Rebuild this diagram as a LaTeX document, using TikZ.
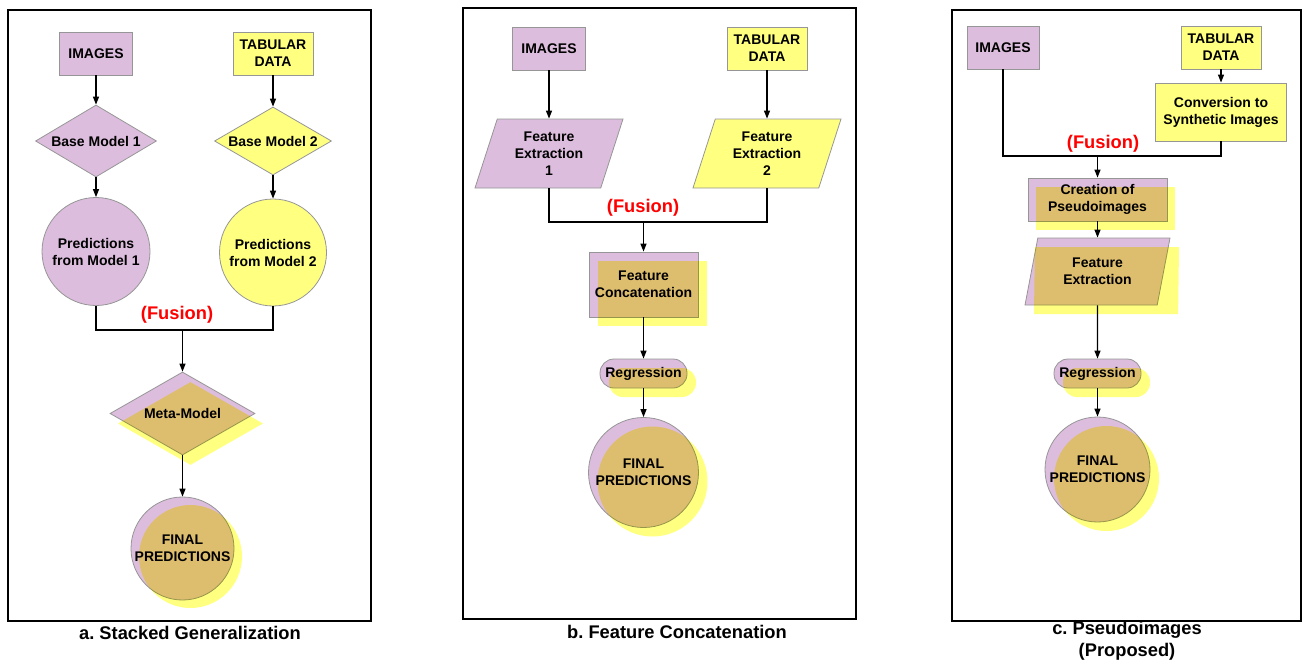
\documentclass[tikz,border=0pt]{standalone}
\usepackage{fontspec}
\setmainfont{Liberation Sans}
\usetikzlibrary{shapes.geometric,arrows.meta}
\frenchspacing
\definecolor{lilac}{RGB}{221,189,221}
\definecolor{lemon}{RGB}{255,255,128}
\definecolor{edgegray}{RGB}{150,150,150}
\tikzset{
  every node/.style={font=\fontsize{14}{17}\selectfont\bfseries, align=center},
  box/.style={rectangle, draw=edgegray, line width=0.8pt, inner sep=2pt},
  dmd/.style={diamond, draw=edgegray, line width=0.8pt, inner sep=0pt},
  para/.style={trapezium, trapezium stretches body, draw=edgegray, line width=0.8pt, inner sep=1pt},
  pill/.style={rectangle, rounded corners=14pt, draw=edgegray, line width=0.8pt, minimum width=87pt, minimum height=29pt},
  disc/.style={circle, draw=edgegray, line width=0.8pt, inner sep=0pt},
  shade/.style={fill=lemon, draw=none},
  link/.style={line width=1.2pt},
  flow/.style={link, -{Triangle[length=8pt,width=6pt]}},
  fusion/.style={text=red, font=\fontsize{18.3}{21}\selectfont\bfseries},
  caption/.style={font=\fontsize{18.3}{22}\selectfont\bfseries},
  panel/.style={line width=2.5pt},
}
\begin{document}
\begin{tikzpicture}[x=1pt, y=-1pt]
  \useasboundingbox (0,0) rectangle (1307,661);
  % a. stacked generalization
  \draw[panel] (8,10) rectangle (371,621);
  \node[box, fill=lilac, minimum width=73pt, minimum height=43pt] (img1) at (96,53.5) {IMAGES};
  \node[box, fill=lemon, minimum width=80pt, minimum height=43pt] (tab1) at (273,53.5) {TABULAR\\DATA};
  \node[dmd, fill=lilac, aspect=1.68, minimum width=121pt, minimum height=72pt] (bm1) at (96,141) {Base Model 1};
  \node[dmd, fill=lemon, aspect=1.72, minimum width=117pt, minimum height=68pt] (bm2) at (273,141) {Base Model 2};
  \node[disc, fill=lilac, minimum size=108pt] (pr1) at (96,251.5) {Predictions\\from Model 1};
  \node[disc, fill=lemon, minimum size=107pt] (pr2) at (273,252.5) {Predictions\\from Model 2};
  \node[fusion] (fusa) at (177,315) {(Fusion)};
  \coordinate (fa) at (182.5,330);
  \node[dmd, fill=lilac, aspect=1.75, minimum width=145pt, minimum height=83pt] (meta) at (182.5,413.5) {Meta-Model};
  \node[disc, fill=lilac, minimum size=103pt] (fin1) at (182.5,548.5) {FINAL\\PREDICTIONS};
  \node[caption] (capa) at (190,633) {a. Stacked Generalization};

  % b. feature concatenation
  \draw[panel] (463,8) rectangle (856,619);
  \node[box, fill=lilac, minimum width=73pt, minimum height=43pt] (img2) at (549,48.5) {IMAGES};
  \node[box, fill=lemon, minimum width=80pt, minimum height=43pt] (tab2) at (767,48.5) {TABULAR\\DATA};
  \node[para, fill=lilac, trapezium left angle=64, trapezium right angle=116, minimum width=148pt, minimum height=69pt] (fe1) at (549,153.5) {Feature\\Extraction\\1};
  \node[para, fill=lemon, trapezium left angle=64, trapezium right angle=116, minimum width=148pt, minimum height=69pt] (fe2) at (767,153.5) {Feature\\Extraction\\2};
  \node[fusion] (fusb) at (643,208) {(Fusion)};
  \coordinate (fb) at (643.5,222);
  \node[box, fill=lilac, minimum width=109pt, minimum height=65pt] (cat) at (643.5,284.5) {Feature\\Concatenation};
  \node[pill, fill=lilac] (reg2) at (643.5,373.5) {Regression};
  \node[disc, fill=lilac, minimum size=110pt] (fin2) at (643.5,472.5) {FINAL\\PREDICTIONS};
  \node[caption] (capb) at (677,632) {b. Feature Concatenation};

  % c. pseudoimages
  \draw[panel] (952,10) rectangle (1301,621);
  \node[box, fill=lilac, minimum width=72pt, minimum height=43pt] (img3) at (1003,47.5) {IMAGES};
  \node[box, fill=lemon, minimum width=80pt, minimum height=43pt] (tab3) at (1221,47.5) {TABULAR\\DATA};
  \node[box, fill=lemon, minimum width=131pt, minimum height=58pt] (conv) at (1221,112) {Conversion to\\Synthetic Images};
  \node[fusion] (fusc) at (1103,144) {(Fusion)};
  \coordinate (fc) at (1097.5,156);
  \node[box, fill=lilac, minimum width=139pt, minimum height=43pt] (pseudo) at (1097.5,199.5) {Creation of\\Pseudoimages};
  \node[para, fill=lilac, trapezium left angle=66, trapezium right angle=114, minimum width=145pt, minimum height=67pt] (fe3) at (1097.5,271.5) {Feature\\Extraction};
  \node[pill, fill=lilac] (reg3) at (1097.5,373.5) {Regression};
  \node[disc, fill=lilac, minimum size=105pt] (fin3) at (1097.5,469.5) {FINAL\\PREDICTIONS};
  \node[caption] (capc) at (1127,641) {c. Pseudoimages\\(Proposed)};

  % yellow copies laid over the fused steps
  \begin{scope}[blend mode=multiply]
    \node[dmd, shade, aspect=1.75, minimum width=145pt, minimum height=83pt] (meta-y) at ([shift={(8,10)}]meta) {};
    \node[disc, shade, minimum size=103pt] (fin1-y) at ([shift={(8,8)}]fin1) {};
    \node[box, shade, minimum width=109pt, minimum height=65pt] (cat-y) at ([shift={(9,9)}]cat) {};
    \node[pill, shade] (reg2-y) at ([shift={(9,9)}]reg2) {};
    \node[disc, shade, minimum size=110pt] (fin2-y) at ([shift={(9,9)}]fin2) {};
    \node[box, shade, minimum width=139pt, minimum height=43pt] (pseudo-y) at ([shift={(8,9)}]pseudo) {};
    \node[para, shade, trapezium left angle=66, trapezium right angle=114, minimum width=145pt, minimum height=67pt] (fe3-y) at ([shift={(9,9)}]fe3) {};
    \node[pill, shade] (reg3-y) at ([shift={(9,9)}]reg3) {};
    \node[disc, shade, minimum size=105pt] (fin3-y) at ([shift={(9,9)}]fin3) {};
  \end{scope}

  \draw[flow] (img1) -- (bm1);
  \draw[flow] (tab1) -- (bm2);
  \draw[flow] (bm1) -- (pr1);
  \draw[flow] (bm2) -- (pr2);
  \draw[link] (pr1.south) |- (fa) -| (pr2.south);
  \draw[flow] (fa) -- (meta.north);
  \draw[flow] (meta) -- (fin1);

  \draw[flow] (img2) -- (fe1);
  \draw[flow] (tab2) -- (fe2);
  \draw[link] (fe1.south) |- (fb) -| (fe2.south);
  \draw[flow] (fb) -- (cat.north);
  \draw[flow] (cat) -- (reg2);
  \draw[flow] (reg2) -- (fin2);

  \draw[flow] (tab3) -- (conv);
  \draw[link] (img3.south) |- (fc) -| (conv.south);
  \draw[flow] (fc) -- (pseudo.north);
  \draw[flow] (pseudo) -- (fe3);
  \draw[flow] (fe3) -- (reg3);
  \draw[flow] (reg3) -- (fin3);
\end{tikzpicture}
\end{document}
